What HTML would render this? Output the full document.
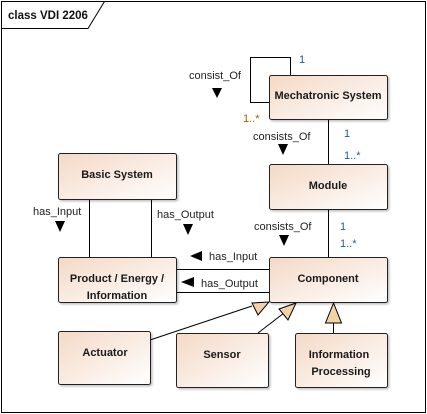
<!DOCTYPE html>
<html><head><meta charset="utf-8"><style>
body{margin:0;background:#fff}
svg{display:block}
text{font-family:"Liberation Sans",sans-serif;font-size:11px}
.b{font-weight:bold;fill:#1a1a1a;text-anchor:middle}
.l{fill:#222}
.m1{fill:#1a5c9c}
.mo{fill:#a85c00}
</style></head><body>
<svg width="427" height="414" viewBox="0 0 427 414" xmlns="http://www.w3.org/2000/svg">
<defs>
<linearGradient id="g" x1="0" y1="0" x2="1" y2="1">
<stop offset="0" stop-color="#f4d9c6"/><stop offset="1" stop-color="#ffffff"/>
</linearGradient>
<filter id="s" x="-10%" y="-10%" width="130%" height="130%"><feDropShadow dx="1.5" dy="1.5" stdDeviation="1" flood-color="#000" flood-opacity="0.25"/></filter>
</defs>
<rect x="1.5" y="1.5" width="424" height="411" fill="#fff" stroke="#000"/>
<path d="M1.5 28.5 H88 L104.5 1.5" fill="none" stroke="#000"/>
<text x="8" y="19" style="font-size:11.5px;font-weight:bold" fill="#111">class VDI 2206</text>

<g stroke="#000" fill="none" stroke-width="1">
<path d="M290.5 75 V57.5 H250.5 V102.5 H269"/>
<path d="M328.5 119 V164"/>
<path d="M328.5 209 V257"/>
<path d="M89.5 199 V257"/>
<path d="M151.5 199 V257"/>
<path d="M176 269.5 H269"/>
<path d="M176 292.5 H269"/>
<path d="M150 340 L252 306"/>
<path d="M258 333 L284 313"/>
<path d="M333.5 333 V323"/>
</g>
<g fill="#f4d2a8" stroke="#000">
<path d="M269 302 L252 303 L258 315 Z"/>
<path d="M296 303 L279 309 L288 320 Z"/>
<path d="M333.5 303 L325.5 323 L341.5 323 Z"/>
</g>

<g filter="url(#s)" fill="url(#g)" stroke="#222">
<rect x="269.5" y="75.5" width="118" height="44" rx="2"/>
<rect x="269.5" y="164.5" width="118" height="45" rx="2"/>
<rect x="58.5" y="153.5" width="118" height="46" rx="2"/>
<rect x="269.5" y="257.5" width="118" height="45" rx="2"/>
<rect x="58.5" y="257.5" width="118" height="45" rx="2"/>
<rect x="58.5" y="331.5" width="92" height="53" rx="2"/>
<rect x="176.5" y="333.5" width="92" height="54" rx="2"/>
<rect x="295.5" y="333.5" width="92" height="54" rx="2"/>
</g>
<text class="b" x="328" y="99">Mechatronic System</text>
<text class="b" x="328" y="189">Module</text>
<text class="b" x="117" y="178">Basic System</text>
<text class="b" x="328" y="282">Component</text>
<text class="b" x="117" y="282">Product / Energy /</text>
<text class="b" x="117" y="299">Information</text>
<text class="b" x="105" y="356">Actuator</text>
<text class="b" x="222" y="358">Sensor</text>
<text class="b" x="339" y="358">Information</text>
<text class="b" x="341" y="375">Processing</text>

<g fill="#000">
<path d="M212 88 L222 88 L217 98 Z"/>
<path d="M278 144 L288 144 L283 155 Z"/>
<path d="M279 235 L289 235 L284 246 Z"/>
<path d="M55 221 L65 221 L60 232 Z"/>
<path d="M183 224 L193 224 L188 235 Z"/>
<path d="M190 256 L202 251 L202 261 Z"/>
<path d="M181 282 L194 277 L194 287 Z"/>
</g>
<text class="l" x="189" y="79">consist_Of</text>
<text class="l" x="253" y="140">consists_Of</text>
<text class="l" x="254" y="230">consists_Of</text>
<text class="l" x="33" y="215">has_Input</text>
<text class="l" x="157" y="218">has_Output</text>
<text class="l" x="209" y="260">has_Input</text>
<text class="l" x="201" y="287">has_Output</text>
<text class="m1" x="299" y="63">1</text>
<text class="mo" x="243" y="122">1..*</text>
<text class="m1" x="344" y="137">1</text>
<text class="m1" x="344" y="159">1..*</text>
<text class="m1" x="340" y="230">1</text>
<text class="m1" x="340" y="247">1..*</text>
</svg>
</body></html>
